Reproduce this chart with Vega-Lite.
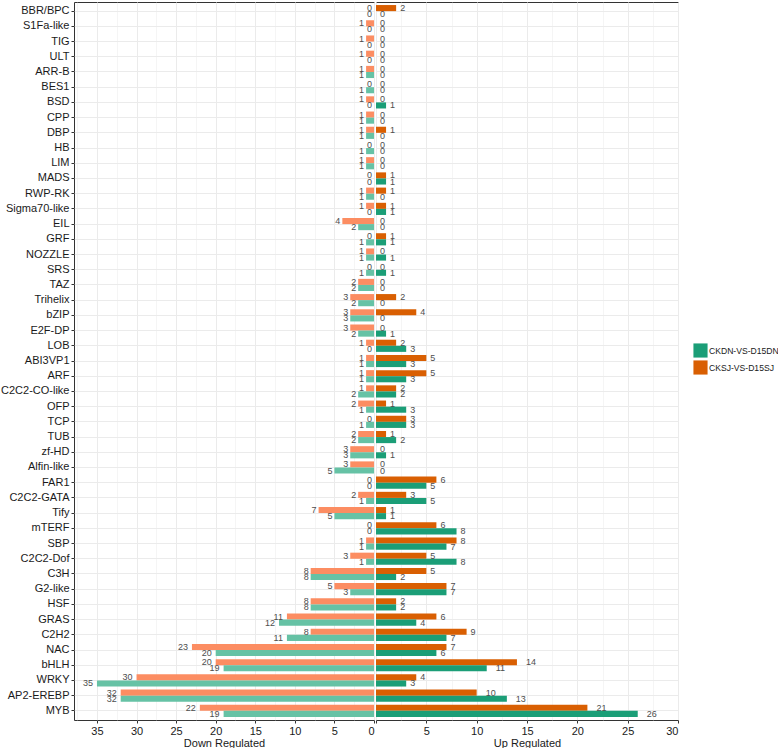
{
  "$schema": "https://vega.github.io/schema/vega-lite/v6.json",
  "padding": {"left": 0, "top": 1, "right": 0, "bottom": 2},
  "background": "white",
  "spacing": 0,
  "config": {
    "font": "Liberation Sans",
    "view": {"stroke": "#333333", "strokeWidth": 1},
    "axis": {"labelFont": "Liberation Sans", "titleFont": "Liberation Sans"}
  },
  "data": {"values": [
    {"f":"BBR/BPC","g":"CKSJ-VS-D15SJ","down":0,"up":2},{"f":"BBR/BPC","g":"CKDN-VS-D15DN","down":0,"up":0},
    {"f":"S1Fa-like","g":"CKSJ-VS-D15SJ","down":1,"up":0},{"f":"S1Fa-like","g":"CKDN-VS-D15DN","down":0,"up":0},
    {"f":"TIG","g":"CKSJ-VS-D15SJ","down":1,"up":0},{"f":"TIG","g":"CKDN-VS-D15DN","down":0,"up":0},
    {"f":"ULT","g":"CKSJ-VS-D15SJ","down":1,"up":0},{"f":"ULT","g":"CKDN-VS-D15DN","down":0,"up":0},
    {"f":"ARR-B","g":"CKSJ-VS-D15SJ","down":1,"up":0},{"f":"ARR-B","g":"CKDN-VS-D15DN","down":1,"up":0},
    {"f":"BES1","g":"CKSJ-VS-D15SJ","down":0,"up":0},{"f":"BES1","g":"CKDN-VS-D15DN","down":1,"up":0},
    {"f":"BSD","g":"CKSJ-VS-D15SJ","down":1,"up":0},{"f":"BSD","g":"CKDN-VS-D15DN","down":0,"up":1},
    {"f":"CPP","g":"CKSJ-VS-D15SJ","down":1,"up":0},{"f":"CPP","g":"CKDN-VS-D15DN","down":1,"up":0},
    {"f":"DBP","g":"CKSJ-VS-D15SJ","down":1,"up":1},{"f":"DBP","g":"CKDN-VS-D15DN","down":1,"up":0},
    {"f":"HB","g":"CKSJ-VS-D15SJ","down":0,"up":0},{"f":"HB","g":"CKDN-VS-D15DN","down":1,"up":0},
    {"f":"LIM","g":"CKSJ-VS-D15SJ","down":1,"up":0},{"f":"LIM","g":"CKDN-VS-D15DN","down":1,"up":0},
    {"f":"MADS","g":"CKSJ-VS-D15SJ","down":0,"up":1},{"f":"MADS","g":"CKDN-VS-D15DN","down":0,"up":1},
    {"f":"RWP-RK","g":"CKSJ-VS-D15SJ","down":1,"up":1},{"f":"RWP-RK","g":"CKDN-VS-D15DN","down":1,"up":0},
    {"f":"Sigma70-like","g":"CKSJ-VS-D15SJ","down":1,"up":1},{"f":"Sigma70-like","g":"CKDN-VS-D15DN","down":0,"up":1},
    {"f":"EIL","g":"CKSJ-VS-D15SJ","down":4,"up":0},{"f":"EIL","g":"CKDN-VS-D15DN","down":2,"up":0},
    {"f":"GRF","g":"CKSJ-VS-D15SJ","down":0,"up":1},{"f":"GRF","g":"CKDN-VS-D15DN","down":1,"up":1},
    {"f":"NOZZLE","g":"CKSJ-VS-D15SJ","down":1,"up":0},{"f":"NOZZLE","g":"CKDN-VS-D15DN","down":1,"up":1},
    {"f":"SRS","g":"CKSJ-VS-D15SJ","down":0,"up":0},{"f":"SRS","g":"CKDN-VS-D15DN","down":1,"up":1},
    {"f":"TAZ","g":"CKSJ-VS-D15SJ","down":2,"up":0},{"f":"TAZ","g":"CKDN-VS-D15DN","down":2,"up":0},
    {"f":"Trihelix","g":"CKSJ-VS-D15SJ","down":3,"up":2},{"f":"Trihelix","g":"CKDN-VS-D15DN","down":2,"up":0},
    {"f":"bZIP","g":"CKSJ-VS-D15SJ","down":3,"up":4},{"f":"bZIP","g":"CKDN-VS-D15DN","down":3,"up":0},
    {"f":"E2F-DP","g":"CKSJ-VS-D15SJ","down":3,"up":0},{"f":"E2F-DP","g":"CKDN-VS-D15DN","down":2,"up":1},
    {"f":"LOB","g":"CKSJ-VS-D15SJ","down":1,"up":2},{"f":"LOB","g":"CKDN-VS-D15DN","down":0,"up":3},
    {"f":"ABI3VP1","g":"CKSJ-VS-D15SJ","down":1,"up":5},{"f":"ABI3VP1","g":"CKDN-VS-D15DN","down":1,"up":3},
    {"f":"ARF","g":"CKSJ-VS-D15SJ","down":1,"up":5},{"f":"ARF","g":"CKDN-VS-D15DN","down":1,"up":3},
    {"f":"C2C2-CO-like","g":"CKSJ-VS-D15SJ","down":1,"up":2},{"f":"C2C2-CO-like","g":"CKDN-VS-D15DN","down":2,"up":2},
    {"f":"OFP","g":"CKSJ-VS-D15SJ","down":2,"up":1},{"f":"OFP","g":"CKDN-VS-D15DN","down":1,"up":3},
    {"f":"TCP","g":"CKSJ-VS-D15SJ","down":0,"up":3},{"f":"TCP","g":"CKDN-VS-D15DN","down":1,"up":3},
    {"f":"TUB","g":"CKSJ-VS-D15SJ","down":2,"up":1},{"f":"TUB","g":"CKDN-VS-D15DN","down":2,"up":2},
    {"f":"zf-HD","g":"CKSJ-VS-D15SJ","down":3,"up":0},{"f":"zf-HD","g":"CKDN-VS-D15DN","down":3,"up":1},
    {"f":"Alfin-like","g":"CKSJ-VS-D15SJ","down":3,"up":0},{"f":"Alfin-like","g":"CKDN-VS-D15DN","down":5,"up":0},
    {"f":"FAR1","g":"CKSJ-VS-D15SJ","down":0,"up":6},{"f":"FAR1","g":"CKDN-VS-D15DN","down":0,"up":5},
    {"f":"C2C2-GATA","g":"CKSJ-VS-D15SJ","down":2,"up":3},{"f":"C2C2-GATA","g":"CKDN-VS-D15DN","down":1,"up":5},
    {"f":"Tify","g":"CKSJ-VS-D15SJ","down":7,"up":1},{"f":"Tify","g":"CKDN-VS-D15DN","down":5,"up":1},
    {"f":"mTERF","g":"CKSJ-VS-D15SJ","down":0,"up":6},{"f":"mTERF","g":"CKDN-VS-D15DN","down":0,"up":8},
    {"f":"SBP","g":"CKSJ-VS-D15SJ","down":1,"up":8},{"f":"SBP","g":"CKDN-VS-D15DN","down":1,"up":7},
    {"f":"C2C2-Dof","g":"CKSJ-VS-D15SJ","down":3,"up":5},{"f":"C2C2-Dof","g":"CKDN-VS-D15DN","down":1,"up":8},
    {"f":"C3H","g":"CKSJ-VS-D15SJ","down":8,"up":5},{"f":"C3H","g":"CKDN-VS-D15DN","down":8,"up":2},
    {"f":"G2-like","g":"CKSJ-VS-D15SJ","down":5,"up":7},{"f":"G2-like","g":"CKDN-VS-D15DN","down":3,"up":7},
    {"f":"HSF","g":"CKSJ-VS-D15SJ","down":8,"up":2},{"f":"HSF","g":"CKDN-VS-D15DN","down":8,"up":2},
    {"f":"GRAS","g":"CKSJ-VS-D15SJ","down":11,"up":6},{"f":"GRAS","g":"CKDN-VS-D15DN","down":12,"up":4},
    {"f":"C2H2","g":"CKSJ-VS-D15SJ","down":8,"up":9},{"f":"C2H2","g":"CKDN-VS-D15DN","down":11,"up":7},
    {"f":"NAC","g":"CKSJ-VS-D15SJ","down":23,"up":7},{"f":"NAC","g":"CKDN-VS-D15DN","down":20,"up":6},
    {"f":"bHLH","g":"CKSJ-VS-D15SJ","down":20,"up":14},{"f":"bHLH","g":"CKDN-VS-D15DN","down":19,"up":11},
    {"f":"WRKY","g":"CKSJ-VS-D15SJ","down":30,"up":4},{"f":"WRKY","g":"CKDN-VS-D15DN","down":35,"up":3},
    {"f":"AP2-EREBP","g":"CKSJ-VS-D15SJ","down":32,"up":10},{"f":"AP2-EREBP","g":"CKDN-VS-D15DN","down":32,"up":13},
    {"f":"MYB","g":"CKSJ-VS-D15SJ","down":22,"up":21},{"f":"MYB","g":"CKDN-VS-D15DN","down":19,"up":26}
  ]},
  "resolve": {"scale": {"color": "independent", "x": "independent"}},
  "hconcat": [
    {
      "width": 300,
      "height": 718,
      "encoding": {
        "y": {"field": "f", "type": "nominal",
          "sort": ["BBR/BPC","S1Fa-like","TIG","ULT","ARR-B","BES1","BSD","CPP","DBP","HB","LIM","MADS","RWP-RK","Sigma70-like","EIL","GRF","NOZZLE","SRS","TAZ","Trihelix","bZIP","E2F-DP","LOB","ABI3VP1","ARF","C2C2-CO-like","OFP","TCP","TUB","zf-HD","Alfin-like","FAR1","C2C2-GATA","Tify","mTERF","SBP","C2C2-Dof","C3H","G2-like","HSF","GRAS","C2H2","NAC","bHLH","WRKY","AP2-EREBP","MYB"],
          "scale": {"paddingInner": 0.2, "paddingOuter": 0.2},
          "axis": {"title": null, "grid": true, "gridColor": "#EBEBEB", "gridWidth": 1, "bandPosition": 0.5, "domain": false,
            "tickColor": "#333333", "tickSize": 3, "labelPadding": 2, "labelFontSize": 11, "labelColor": "#1a1a1a"}},
        "yOffset": {"field": "g", "type": "nominal", "scale": {"domain": ["CKSJ-VS-D15SJ","CKDN-VS-D15DN"]}},
        "x": {"field": "down", "type": "quantitative",
          "scale": {"domain": [0, 37.9], "reverse": true, "nice": false, "zero": false},
          "axis": {"title": "Down Regulated", "titleFontSize": 11, "titleFontWeight": "normal", "titleColor": "#1a1a1a", "titlePadding": 1,
            "values": [0,2.5,5,7.5,10,12.5,15,17.5,20,22.5,25,27.5,30,32.5,35,37.5],
            "labelExpr": "datum.value % 5 === 0 ? datum.label : ''",
            "format": "d",
            "domain": false, "grid": true, "gridColor": "#EBEBEB",
            "gridWidth": {"condition": {"test": "datum.value % 5 === 0", "value": 1}, "value": 0.5},
            "tickOpacity": {"condition": {"test": "datum.value % 5 === 0", "value": 1}, "value": 0},
            "tickColor": "#333333", "tickSize": 3, "labelFontSize": 11, "labelColor": "#1a1a1a", "labelPadding": 2}}
      },
      "layer": [
        {"mark": {"type": "bar"},
         "encoding": {"color": {"field": "g", "type": "nominal", "scale": {"domain": ["CKDN-VS-D15DN","CKSJ-VS-D15SJ"], "range": ["#66C2A5","#FC8D62"]}, "legend": null}}},
        {"mark": {"type": "text", "align": "right", "baseline": "middle", "dx": {"expr": "datum.down >= 10 ? -4 : -2"}, "fontSize": 9, "color": "#4d4d4d"},
         "encoding": {"text": {"field": "down", "type": "quantitative"}}}
      ]
    },
    {
      "width": 302,
      "height": 718,
      "encoding": {
        "y": {"field": "f", "type": "nominal",
          "sort": ["BBR/BPC","S1Fa-like","TIG","ULT","ARR-B","BES1","BSD","CPP","DBP","HB","LIM","MADS","RWP-RK","Sigma70-like","EIL","GRF","NOZZLE","SRS","TAZ","Trihelix","bZIP","E2F-DP","LOB","ABI3VP1","ARF","C2C2-CO-like","OFP","TCP","TUB","zf-HD","Alfin-like","FAR1","C2C2-GATA","Tify","mTERF","SBP","C2C2-Dof","C3H","G2-like","HSF","GRAS","C2H2","NAC","bHLH","WRKY","AP2-EREBP","MYB"],
          "scale": {"paddingInner": 0.2, "paddingOuter": 0.2},
          "axis": {"title": null, "grid": true, "gridColor": "#EBEBEB", "gridWidth": 1, "bandPosition": 0.5, "domain": false,
            "ticks": false, "labels": false}},
        "yOffset": {"field": "g", "type": "nominal", "scale": {"domain": ["CKSJ-VS-D15SJ","CKDN-VS-D15DN"]}},
        "x": {"field": "up", "type": "quantitative",
          "scale": {"domain": [0, 30], "nice": false},
          "axis": {"title": "Up Regulated", "titleFontSize": 11, "titleFontWeight": "normal", "titleColor": "#1a1a1a", "titlePadding": 1,
            "values": [0,2.5,5,7.5,10,12.5,15,17.5,20,22.5,25,27.5,30],
            "labelExpr": "datum.value % 5 === 0 && datum.value > 0 ? datum.label : ''",
            "format": "d",
            "domain": false, "grid": true, "gridColor": "#EBEBEB",
            "gridWidth": {"condition": {"test": "datum.value % 5 === 0", "value": 1}, "value": 0.5},
            "tickOpacity": {"condition": {"test": "datum.value % 5 === 0", "value": 1}, "value": 0},
            "tickColor": "#333333", "tickSize": 3, "labelFontSize": 11, "labelColor": "#1a1a1a", "labelPadding": 2}}
      },
      "layer": [
        {"mark": {"type": "bar"},
         "encoding": {"color": {"field": "g", "type": "nominal", "scale": {"domain": ["CKDN-VS-D15DN","CKSJ-VS-D15SJ"], "range": ["#1B9E77","#D95F02"]},
           "legend": {"title": null, "orient": "none", "legendX": 317, "legendY": 341, "symbolType": "square", "symbolSize": 200,
             "symbolStrokeWidth": 0, "labelFontSize": 8.6, "labelColor": "#1a1a1a", "rowPadding": 2, "labelOffset": 1, "padding": 0}}}},
        {"mark": {"type": "text", "align": "left", "baseline": "middle", "dx": {"expr": "datum.up >= 10 ? 9 : 4"}, "fontSize": 9, "color": "#4d4d4d"},
         "encoding": {"text": {"field": "up", "type": "quantitative"}}}
      ]
    }
  ]
}
